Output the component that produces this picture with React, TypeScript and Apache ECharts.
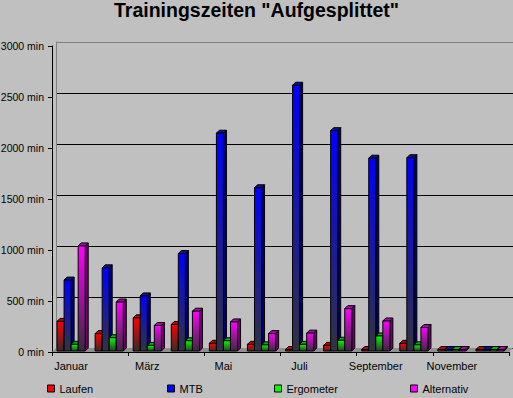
import React, { useEffect, useRef } from "react";
import * as echarts from "echarts";

const months = ["Januar", "Februar", "März", "April", "Mai", "Juni", "Juli", "August", "September", "Oktober", "November", "Dezember"];
const seriesNames = ["Laufen", "MTB", "Ergometer", "Alternativ"];
const laufen = [300, 180, 335, 270, 85, 75, 15, 65, 10, 85, 0, 0];
const mtb = [705, 825, 550, 965, 2145, 1610, 2615, 2170, 1900, 1905, 0, 0];
const ergometer = [75, 140, 65, 110, 110, 70, 75, 115, 157, 70, 0, 0];
const alternativ = [1040, 490, 260, 400, 295, 180, 185, 425, 304, 240, 0, 0];
const allValues = [laufen, mtb, ergometer, alternativ];

const baseColors = ["#FF0000", "#0000FF", "#00FF00", "#FF00FF"];
const bottomColors = ["#3a2a2a", "#333340", "#2a3a2a", "#3a2a3a"];
const topColors = ["#c00000", "#1010a0", "#00b000", "#b000b0"];
const sideColors = ["#700000", "#000070", "#006000", "#700070"];
const legendLefts = [47, 167, 274, 410];

export default function App() {
  const ref = useRef<HTMLDivElement>(null);
  useEffect(() => {
    const chart = echarts.init(ref.current!, null, { renderer: "svg" });
    const font = "'Liberation Sans', Arial, sans-serif";
    const series: any[] = allValues.map((vals, si) => ({
      name: seriesNames[si],
      type: "custom",
      xAxisIndex: 0,
      yAxisIndex: 0,
      itemStyle: { color: baseColors[si] },
      data: vals.map((v, i) => [i, v]),
      z: 3,
      renderItem: (params: any, api: any) => {
        const idx = api.value(0);
        const v = api.value(1);
        const top = api.coord([idx, v]);
        const base = api.coord([idx, 0]);
        const band = api.size([1, 0])[0];
        const w = band * 0.185;
        const x0 = base[0] - band * 0.368 + si * w;
        const yb = base[1] - 1;
        let yt = top[1];
        if (yb - yt < 1.5) yt = yb - 1.5;
        const d = 3;
        const grad = new echarts.graphic.LinearGradient(0, 0, 0, 1, [
          { offset: 0, color: baseColors[si] },
          { offset: 1, color: bottomColors[si] },
        ]);
        return {
          type: "group",
          children: [
            {
              type: "polygon",
              shape: { points: [[x0 + w, yt], [x0 + w + d, yt - d], [x0 + w + d, yb - d], [x0 + w, yb]] },
              style: { fill: sideColors[si], stroke: "#000", lineWidth: 1 },
            },
            {
              type: "polygon",
              shape: { points: [[x0, yt], [x0 + d, yt - d], [x0 + w + d, yt - d], [x0 + w, yt]] },
              style: { fill: topColors[si], stroke: "#000", lineWidth: 1 },
            },
            {
              type: "rect",
              shape: { x: x0, y: yt, width: w, height: yb - yt },
              style: { fill: grad, stroke: "#000", lineWidth: 1 },
            },
          ],
        };
      },
    }));

    const option: any = {
      animation: false,
      backgroundColor: "#C0C0C0",
      title: {
        text: 'Trainingszeiten "Aufgesplittet"',
        left: "center",
        top: 0,
        padding: 0,
        textStyle: { fontFamily: font, fontWeight: "bold", fontSize: 19.5, color: "#000" },
      },
      legend: seriesNames.map((n, i) => ({
        data: [n],
        left: legendLefts[i],
        top: 383,
        padding: 0,
        itemWidth: 7,
        itemHeight: 7,
        icon: "rect",
        itemStyle: { borderColor: "#000", borderWidth: 1 },
        textStyle: { fontFamily: font, fontSize: 11, color: "#000" },
      })),
      grid: [
        { left: 52, right: 4, top: 46, bottom: 46, containLabel: false, outerBoundsMode: "none" },
        { left: 56, right: 0, top: 42, bottom: 50, containLabel: false, outerBoundsMode: "none" },
      ],
      xAxis: [
        {
          type: "category",
          gridIndex: 0,
          data: months,
          axisLine: { lineStyle: { color: "#000", width: 1 } },
          axisTick: { show: true, length: 4, lineStyle: { color: "#000" } },
          axisLabel: { interval: 1, fontFamily: font, fontSize: 11, color: "#000", margin: 8 },
        },
        {
          type: "category",
          gridIndex: 1,
          data: months,
          show: false,
        },
      ],
      yAxis: [
        {
          type: "value",
          gridIndex: 0,
          min: 0,
          max: 3000,
          interval: 500,
          axisLine: { show: true, lineStyle: { color: "#000", width: 1 } },
          axisTick: { show: true, length: 4, lineStyle: { color: "#000" } },
          axisLabel: {
            formatter: (v: number) => String(v) + " min",
            fontFamily: font,
            fontSize: 10.5,
            color: "#000",
            margin: 8,
          },
          splitLine: { show: false },
        },
        {
          type: "value",
          gridIndex: 1,
          min: 0,
          max: 3000,
          interval: 500,
          axisLine: { show: true, lineStyle: { color: "#808080", width: 1 } },
          axisTick: { show: false },
          axisLabel: { show: false },
          splitLine: {
            show: true,
            lineStyle: { color: ["#000", "#000", "#000", "#000", "#000", "#000", "#808080"], width: 1 },
          },
        },
      ],
      graphic: [
        {
          type: "polygon",
          z: 1,
          silent: true,
          shape: { points: [[52, 352], [56, 348], [513, 348], [509, 352]] },
          style: { fill: "#909090" },
        },
      ],
      series,
    };
    chart.setOption(option);
    return () => chart.dispose();
  }, []);
  return (
    <div style={{ position: "absolute", left: 0, top: 0, width: 513, height: 398 }}>
      <div ref={ref} style={{ width: 513, height: 398 }} />
    </div>
  );
}
